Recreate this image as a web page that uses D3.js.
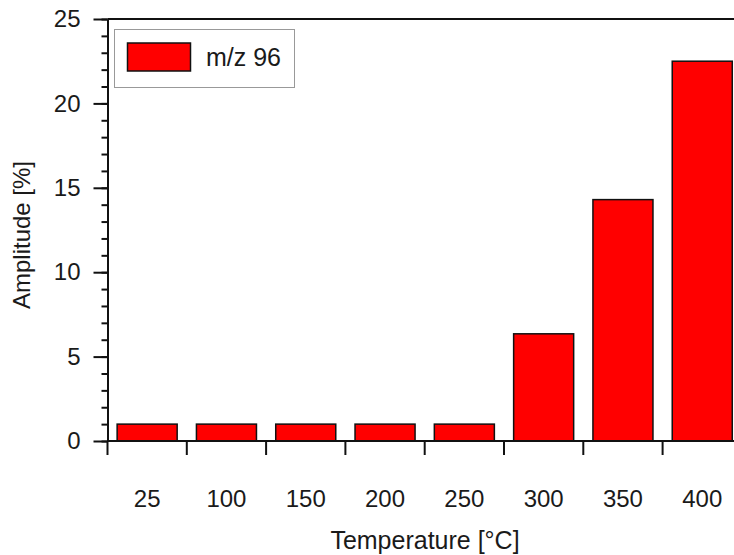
<!DOCTYPE html>
<html>
<head>
<meta charset="utf-8">
<script src="https://cdn.jsdelivr.net/npm/d3@7"></script>
<style>
  body { margin: 0; background: #fff; }
  svg { display: block; }
  text { font-family: "Liberation Sans", Arial, sans-serif; fill: #1a1a1a; }
</style>
</head>
<body>
<div class="result"></div>
<script>
// Data
const categories = ['25', '100', '150', '200', '250', '300', '350', '400'];
const amplitudes = [1.0, 1.0, 1.0, 1.0, 1.0, 6.35, 14.3, 22.5];
const yTicks = [0, 5, 10, 15, 20, 25];
const seriesName = 'm/z 96';

// Size
const w = 734;
const h = 555;
const plotLeft = 107.5;
const plotTop = 19;
const plotBottom = 441;
const step = 79.3;

// Scales
const xScale = d3.scaleBand()
  .domain(categories)
  .range([plotLeft, plotLeft + step * categories.length])
  .paddingInner(0.243)
  .paddingOuter(0.1215);

const yScale = d3.scaleLinear()
  .domain([0, 25])
  .range([plotBottom, plotTop]);

// SVG
const svg = d3.select('.result')
  .append('svg')
  .attr('width', w)
  .attr('height', h);

// Bars
svg.selectAll('rect.bar')
  .data(amplitudes)
  .enter()
  .append('rect')
  .attr('class', 'bar')
  .attr('x', function (d, i) { return xScale(categories[i]); })
  .attr('y', function (d) { return yScale(d); })
  .attr('width', xScale.bandwidth())
  .attr('height', function (d) { return yScale(0) - yScale(d); })
  .attr('fill', '#ff0000')
  .attr('stroke', '#111')
  .attr('stroke-width', 1.5);

// Top frame line
svg.append('line')
  .attr('x1', plotLeft).attr('x2', w)
  .attr('y1', yScale(25)).attr('y2', yScale(25))
  .attr('stroke', '#111').attr('stroke-width', 2);

// X axis line
svg.append('line')
  .attr('x1', plotLeft).attr('x2', w)
  .attr('y1', yScale(0)).attr('y2', yScale(0))
  .attr('stroke', '#111').attr('stroke-width', 2);

// X boundary ticks
const boundaries = d3.range(categories.length + 1).map(function (i) { return plotLeft + i * xScale.step(); });
svg.selectAll('line.xtick')
  .data(boundaries)
  .enter()
  .append('line')
  .attr('class', 'xtick')
  .attr('x1', function (d) { return d; })
  .attr('x2', function (d) { return d; })
  .attr('y1', yScale(0))
  .attr('y2', yScale(0) + 14)
  .attr('stroke', '#111')
  .attr('stroke-width', 2);

// X labels
svg.selectAll('text.xlabel')
  .data(categories)
  .enter()
  .append('text')
  .attr('class', 'xlabel')
  .attr('x', function (d) { return xScale(d) + xScale.bandwidth() / 2; })
  .attr('y', 507)
  .attr('text-anchor', 'middle')
  .attr('font-size', 24)
  .text(function (d) { return d; });

// Y minor ticks
const yMinor = d3.axisLeft(yScale)
  .tickValues(d3.range(0, 26, 1))
  .tickSize(6)
  .tickFormat('');
svg.append('g')
  .attr('transform', 'translate(' + plotLeft + ',0)')
  .call(yMinor)
  .call(function (g) {
    g.select('.domain').remove();
    g.selectAll('line').attr('stroke', '#111').attr('stroke-width', 2);
  });

// Y major axis
const yAxis = d3.axisLeft(yScale)
  .tickValues(yTicks)
  .tickSize(14)
  .tickSizeOuter(0)
  .tickPadding(13);
svg.append('g')
  .attr('transform', 'translate(' + plotLeft + ',0)')
  .call(yAxis)
  .call(function (g) {
    g.select('.domain').attr('stroke', '#111').attr('stroke-width', 2);
    g.selectAll('line').attr('stroke', '#111').attr('stroke-width', 2);
    g.selectAll('text')
      .attr('font-size', 24)
      .attr('font-family', '"Liberation Sans", Arial, sans-serif')
      .attr('fill', '#1a1a1a');
  });

// Axis titles
svg.append('text')
  .attr('x', 425)
  .attr('y', 549)
  .attr('text-anchor', 'middle')
  .attr('font-size', 25)
  .text('Temperature [°C]');

svg.append('text')
  .attr('transform', 'translate(30,' + 235 + ') rotate(-90)')
  .attr('text-anchor', 'middle')
  .attr('font-size', 24)
  .text('Amplitude [%]');

// Legend
const legend = svg.append('g');
legend.append('rect')
  .attr('x', 114.5).attr('y', 29.5)
  .attr('width', 180).attr('height', 58)
  .attr('fill', '#fff')
  .attr('stroke', '#999')
  .attr('stroke-width', 1);
legend.append('rect')
  .attr('x', 127.5).attr('y', 43)
  .attr('width', 63).attr('height', 28)
  .attr('fill', '#ff0000')
  .attr('stroke', '#111')
  .attr('stroke-width', 1.5);
legend.append('text')
  .attr('x', 206)
  .attr('y', 66)
  .attr('font-size', 25)
  .text(seriesName);
</script>
</body>
</html>
